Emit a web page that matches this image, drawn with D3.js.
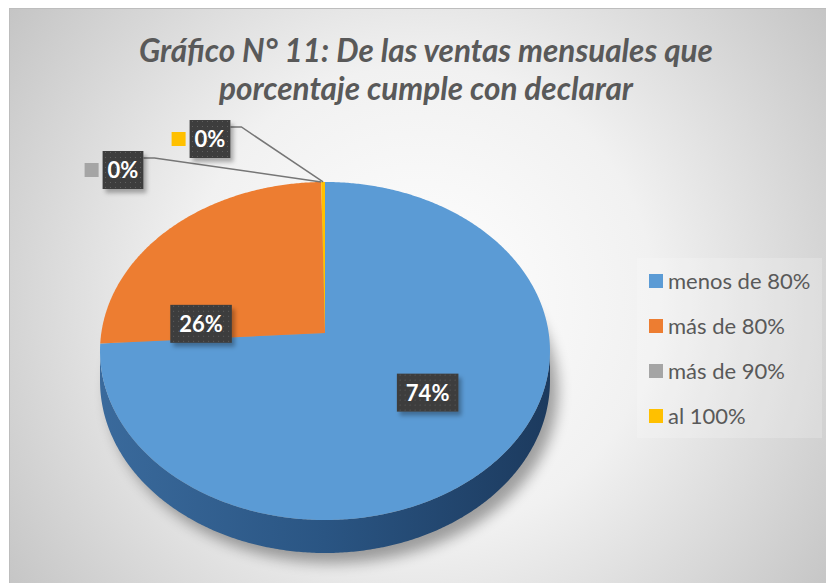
<!DOCTYPE html>
<html>
<head>
<meta charset="utf-8">
<script src="https://cdn.jsdelivr.net/npm/d3@7"></script>
<style>
  html, body { margin: 0; padding: 0; background: #fff; }
  svg { display: block; }
</style>
</head>
<body>
<svg id="chart"></svg>
<script>
// data
var categories = ["menos de 80%", "más de 80%", "más de 90%", "al 100%"];
var values = [74, 25.7, 0, 0.3];
var colors = ["#5b9bd5", "#ed7d31", "#a5a5a5", "#ffc000"];
var titleLines = ["Gráfico N° 11: De las ventas mensuales que", "porcentaje cumple con declarar"];

var width = 826, height = 583;

var svg = d3.select('#chart')
    .attr('width', width)
    .attr('height', height);

var defs = svg.append('defs');

/** background: radial gray gradient like the Excel chart area */
var bg = defs.append('radialGradient')
    .attr('id', 'bgGrad')
    .attr('gradientUnits', 'userSpaceOnUse')
    .attr('cx', 420).attr('cy', 300).attr('r', 520);
bg.append('stop').attr('offset', 0).attr('stop-color', '#ffffff');
bg.append('stop').attr('offset', 0.45).attr('stop-color', '#f1f1f1');
bg.append('stop').attr('offset', 1).attr('stop-color', '#c2c2c2');

var side = defs.append('linearGradient')
    .attr('id', 'sideGrad')
    .attr('x1', 0).attr('x2', 1).attr('y1', 0).attr('y2', 0);
side.append('stop').attr('offset', 0).attr('stop-color', '#3a6a9c');
side.append('stop').attr('offset', 0.5).attr('stop-color', '#2a5583');
side.append('stop').attr('offset', 1).attr('stop-color', '#1c3a5e');

var blur = defs.append('filter').attr('id', 'pieShadow')
    .attr('x', '-20%').attr('y', '-20%').attr('width', '140%').attr('height', '140%');
blur.append('feGaussianBlur').attr('stdDeviation', 7);

var boxShadow = defs.append('filter').attr('id', 'boxShadow')
    .attr('x', '-30%').attr('y', '-30%').attr('width', '160%').attr('height', '160%');
boxShadow.append('feDropShadow')
    .attr('dx', 3).attr('dy', 4).attr('stdDeviation', 2)
    .attr('flood-color', '#000').attr('flood-opacity', 0.3);

var dots = defs.append('pattern')
    .attr('id', 'dots')
    .attr('patternUnits', 'userSpaceOnUse')
    .attr('width', 5).attr('height', 5);
dots.append('rect').attr('width', 5).attr('height', 5).attr('fill', '#3d3d3d');
dots.append('rect').attr('x', 2).attr('y', 2).attr('width', 1).attr('height', 1).attr('fill', '#5e5e5e');

svg.append('rect')
    .attr('x', 9.5).attr('y', 8.5)
    .attr('width', width).attr('height', height)
    .attr('fill', 'url(#bgGrad)')
    .attr('stroke', '#bdbdbd');

/** title */
var title = svg.append('text')
    .attr('text-anchor', 'middle')
    .style('font-family', 'Lato, "Open Sans", sans-serif')
    .style('font-weight', 'bold')
    .style('font-style', 'italic')
    .style('font-size', '31.5px')
    .style('fill', '#595959');
title.selectAll('tspan')
    .data(titleLines)
    .enter().append('tspan')
    .attr('x', 426)
    .attr('y', function(d, i) { return 62 + i * 38; })
    .text(function(d) { return d; });

/** perspective projection of the tilted pie */
var pie3d = { cx: 325, cy: 333, rx: 223.7, ry: 167.1, k: 0.1064, depth: 29.5 };

function project(theta, r, lift) {
  var u = r * Math.sin(theta), v = -r * Math.cos(theta);
  var s = 1 / (1 - pie3d.k * v);
  return [pie3d.cx + pie3d.rx * u * s, pie3d.cy + pie3d.ry * v * s + (lift ? pie3d.depth * s : 0)];
}

function arcPoints(a0, a1, lift) {
  var n = Math.max(2, Math.ceil(Math.abs(a1 - a0) / (Math.PI / 360)));
  return d3.range(n + 1).map(function(i) { return project(a0 + (a1 - a0) * i / n, 1, lift); });
}

var line = d3.line();

var arcs = d3.pie().sort(null).startAngle(0).endAngle(2 * Math.PI)(values);

// silhouette tangents of the rim
var thA = Math.acos(-pie3d.k), thB = 2 * Math.PI - thA;

var pieG = svg.append('g');

/** soft shadow under the pie */
var shadowPts = arcPoints(0, 2 * Math.PI, true);
pieG.append('path')
    .attr('d', line(shadowPts) + 'Z')
    .attr('transform', 'translate(8,10)')
    .attr('fill', '#000')
    .attr('opacity', 0.35)
    .attr('filter', 'url(#pieShadow)');

/** side wall of the visible front slices */
arcs.forEach(function(a, i) {
  var s0 = Math.max(a.startAngle, thA), s1 = Math.min(a.endAngle, thB);
  if (s1 <= s0) return;
  var top = arcPoints(s0, s1, false), bottom = arcPoints(s1, s0, true);
  pieG.append('path')
      .attr('d', line(top.concat(bottom)) + 'Z')
      .attr('fill', i === 0 ? 'url(#sideGrad)' : d3.color(colors[i]).darker(1.2));
});

/** top face slices */
pieG.selectAll('.slice')
    .data(arcs)
    .enter().append('path')
    .attr('class', 'slice')
    .attr('d', function(a) {
      if (a.endAngle - a.startAngle <= 0) return null;
      return line([[pie3d.cx, pie3d.cy]].concat(arcPoints(a.startAngle, a.endAngle, false))) + 'Z';
    })
    .attr('fill', function(a, i) { return colors[i]; });

/** data labels */
var labelFont = 'Lato, "Open Sans", sans-serif';
// where Excel put each label: fraction along the slice and radius, or a moved-out box
var labelPlace = [
  { frac: 0.48, r: 0.56 },
  { frac: 0.10, r: 0.56 },
  { box: [123, 170], key: true },
  { box: [210, 139], key: true }
];

function pct(v) { return Math.round(v / d3.sum(values) * 100) + '%'; }

var labels = svg.append('g');
arcs.forEach(function(a, i) {
  var p = labelPlace[i], cxy;
  if (p.box) cxy = p.box;
  else cxy = project(a.startAngle + (a.endAngle - a.startAngle) * p.frac, p.r, false);

  var g = labels.append('g').attr('transform', 'translate(' + cxy[0] + ',' + cxy[1] + ')');
  var t = g.append('text')
      .attr('text-anchor', 'middle')
      .attr('dy', '0.36em')
      .style('font-family', labelFont)
      .style('font-weight', 'bold')
      .style('font-size', '22px')
      .style('fill', '#fff')
      .text(pct(values[i]));
  var w = t.node().getComputedTextLength() + (p.box ? 10 : 18), h = 38;
  g.insert('rect', 'text')
      .attr('x', -w / 2).attr('y', -h / 2)
      .attr('width', w).attr('height', h)
      .attr('fill', 'url(#dots)')
      .attr('filter', 'url(#boxShadow)');

  if (p.box) {
    // legend key in front of the box
    g.append('rect')
        .attr('x', -w / 2 - 18).attr('y', -7)
        .attr('width', 14).attr('height', 14)
        .attr('fill', colors[i]);
    // leader line to the slice rim
    var end = project((a.startAngle + a.endAngle) / 2, 1, false);
    var x0 = cxy[0] + w / 2, y0 = cxy[1] - h / 2 + 7;
    labels.insert('path', 'g')
        .attr('d', line([[x0, y0], [x0 + 11, y0], end]))
        .attr('fill', 'none')
        .attr('stroke', '#767676')
        .attr('stroke-width', 1.5);
  }
});

/** legend */
var legend = svg.append('g');
legend.append('rect')
    .attr('x', 637).attr('y', 258)
    .attr('width', 185).attr('height', 180)
    .attr('fill', '#fff').attr('opacity', 0.2);

var item = legend.selectAll('.item')
    .data(categories)
    .enter().append('g')
    .attr('class', 'item')
    .attr('transform', function(d, i) { return 'translate(649,' + (281 + i * 45) + ')'; });

item.append('rect')
    .attr('y', -7).attr('width', 14).attr('height', 14)
    .attr('fill', function(d, i) { return colors[i]; });

item.append('text')
    .attr('x', 19)
    .attr('dy', '0.36em')
    .style('font-family', labelFont)
    .style('font-size', '22px')
    .style('fill', '#595959')
    .text(function(d) { return d; });
</script>
</body>
</html>
